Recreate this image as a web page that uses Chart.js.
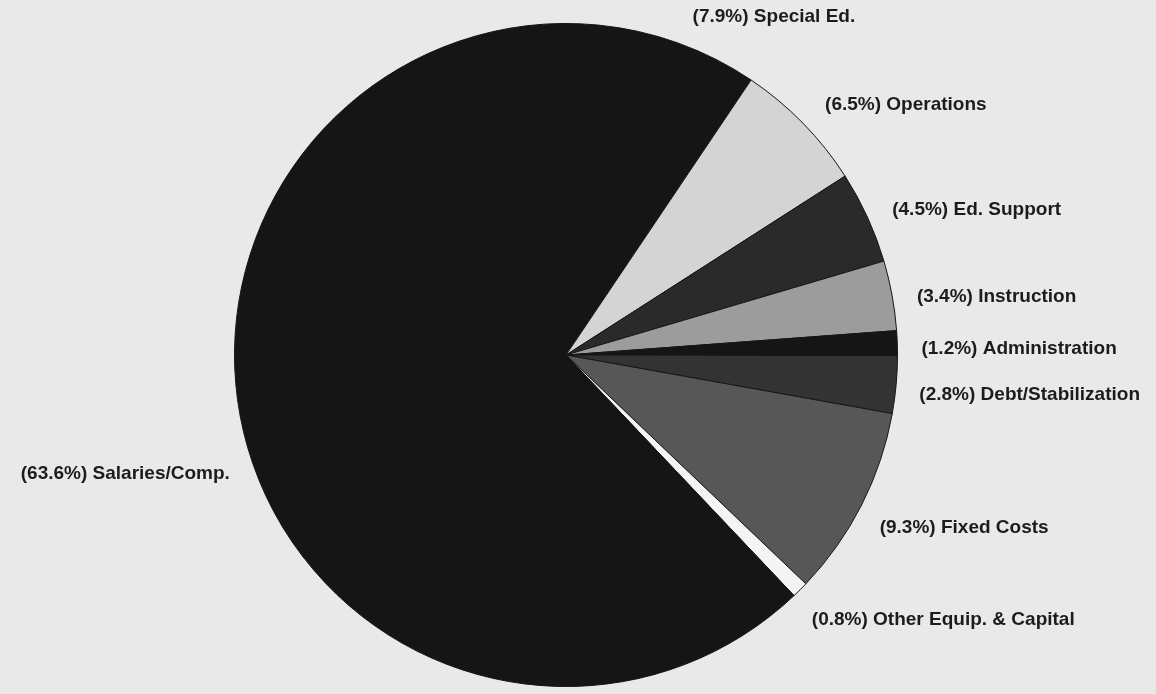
<!DOCTYPE html>
<html>
<head>
<meta charset="utf-8">
<script src="https://cdn.jsdelivr.net/npm/chart.js@4/dist/chart.umd.min.js"></script>
<style>
  html, body { margin: 0; padding: 0; background: #e9e9ea; }
  #wrap { width: 1156px; height: 694px; }
</style>
</head>
<body>
<div id="wrap"><canvas id="c" width="1156" height="694"></canvas></div>
<script>
const categories = ["Special Ed.", "Operations", "Ed. Support", "Instruction", "Administration",
                    "Debt/Stabilization", "Fixed Costs", "Other Equip. & Capital", "Salaries/Comp."];
const percentages = [7.9, 6.5, 4.5, 3.4, 1.2, 2.8, 9.3, 0.8, 63.6];
const sliceColors = ["#151515", "#d4d4d4", "#2a2a2a", "#9c9c9c", "#151515",
                     "#333333", "#575757", "#f4f4f4", "#151515"];

const labelPlugin = {
  id: 'outLabels',
  afterDatasetsDraw(chart) {
    const ctx = chart.ctx;
    const meta = chart.getDatasetMeta(0);
    ctx.save();
    ctx.font = 'bold 19px "Liberation Sans", Arial, sans-serif';
    ctx.fillStyle = '#1c1c1c';
    ctx.textBaseline = 'middle';
    meta.data.forEach((arc, i) => {
      const p = arc.getProps(['x', 'y', 'startAngle', 'endAngle', 'outerRadius'], true);
      let mid = (p.startAngle + p.endAngle) / 2;
      const right = Math.cos(mid) >= 0;
      if (right) mid += 0.02;
      const R = p.outerRadius + 24;
      const lx = p.x + Math.cos(mid) * R;
      const ly = Math.max(p.y + Math.sin(mid) * R * 1.03, 17);
      ctx.textAlign = right ? 'left' : 'right';
      const txt = '(' + percentages[i].toFixed(1) + '%) ' + categories[i];
      ctx.fillText(txt, lx, ly);
    });
    ctx.restore();
  }
};

new Chart(document.getElementById('c'), {
  type: 'pie',
  data: {
    labels: categories,
    datasets: [{
      data: percentages,
      backgroundColor: sliceColors,
      borderColor: '#151515',
      borderWidth: 1
    }]
  },
  options: {
    responsive: false,
    devicePixelRatio: 1,
    animation: false,
    rotation: 5.5,
    layout: { padding: { left: 234, right: 258, top: 23, bottom: 7 } },
    plugins: {
      legend: { display: false },
      tooltip: { enabled: false }
    }
  },
  plugins: [labelPlugin]
});
</script>
</body>
</html>
